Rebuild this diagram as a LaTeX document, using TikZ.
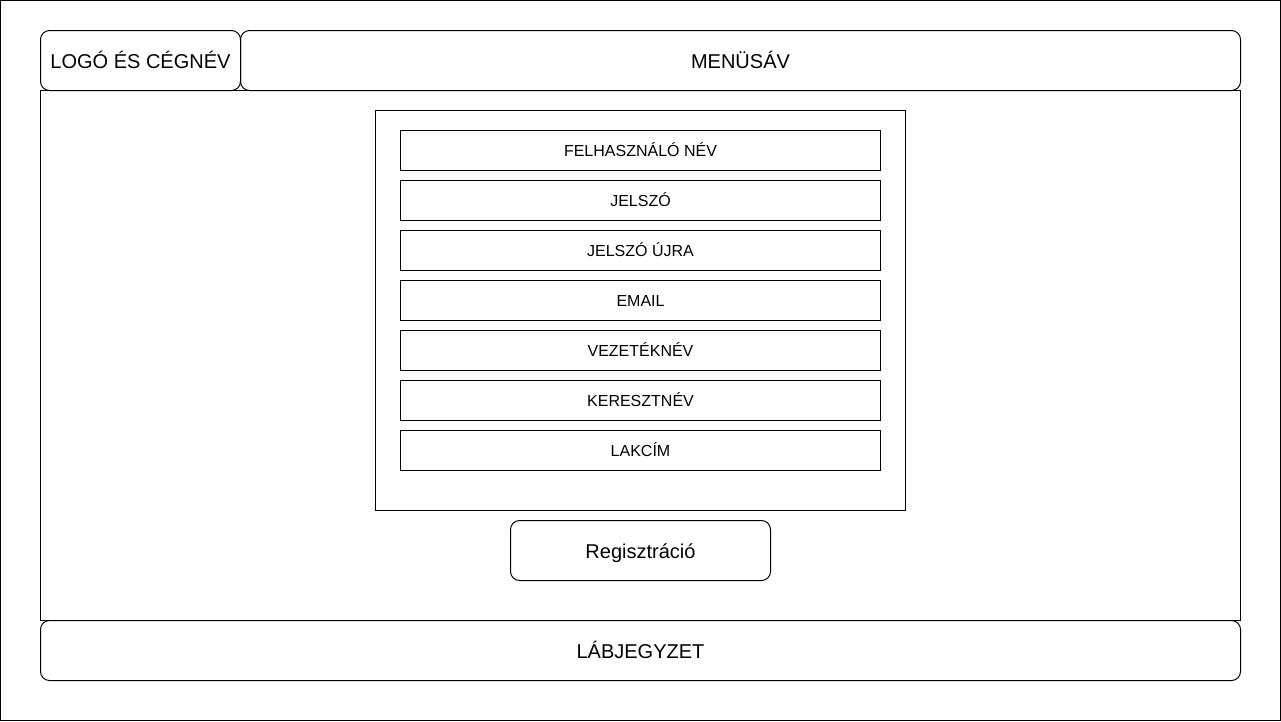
\documentclass[tikz,border=0pt]{standalone}
\usepackage{fontspec}
\setmainfont{Liberation Sans}
\begin{document}
\begin{tikzpicture}[x=1pt,y=-1pt,line width=1pt,
  big/.style={font=\fontsize{20}{24}\selectfont,anchor=base,inner sep=0pt},
  small/.style={font=\fontsize{16}{19}\selectfont,anchor=base,inner sep=0pt},
  rbox/.style={draw,rounded corners=9pt},
  sbox/.style={draw}]
\useasboundingbox (0,0) rectangle (1281,721);
\draw (0.5,0.5) rectangle (1280.5,720.5);
% main area
\draw (40.5,90.5) rectangle (1240.5,620.5);
\draw[rbox] (40.5,30.5) rectangle (240.5,90.5);
\node[big] (logo) at (140.5,68.5) {LOGÓ ÉS CÉGNÉV};
\draw[rbox] (240.5,30.5) rectangle (1240.5,90.5);
\node[big] (menu) at (740.5,68.5) {MENÜSÁV};
% form
\draw (375.5,110.5) rectangle (905.5,510.5);
\foreach \y/\t/\n in {130/FELHASZNÁLÓ NÉV/f1,180/JELSZÓ/f2,230/JELSZÓ ÚJRA/f3,280/EMAIL/f4,330/VEZETÉKNÉV/f5,380/KERESZTNÉV/f6,430/LAKCÍM/f7}{
  \draw (400.5,\y+0.5) rectangle (880.5,\y+40.5);
  \node[small] (\n) at (640.5,\y+26.5) {\t};
}
\draw[rbox] (510.5,520.5) rectangle (770.5,580.5);
\node[big] (reg) at (640.5,558.5) {Regisztráció};
\draw[rbox] (40.5,620.5) rectangle (1240.5,680.5);
\node[big] (foot) at (640.5,658.5) {LÁBJEGYZET};
\end{tikzpicture}
\end{document}
